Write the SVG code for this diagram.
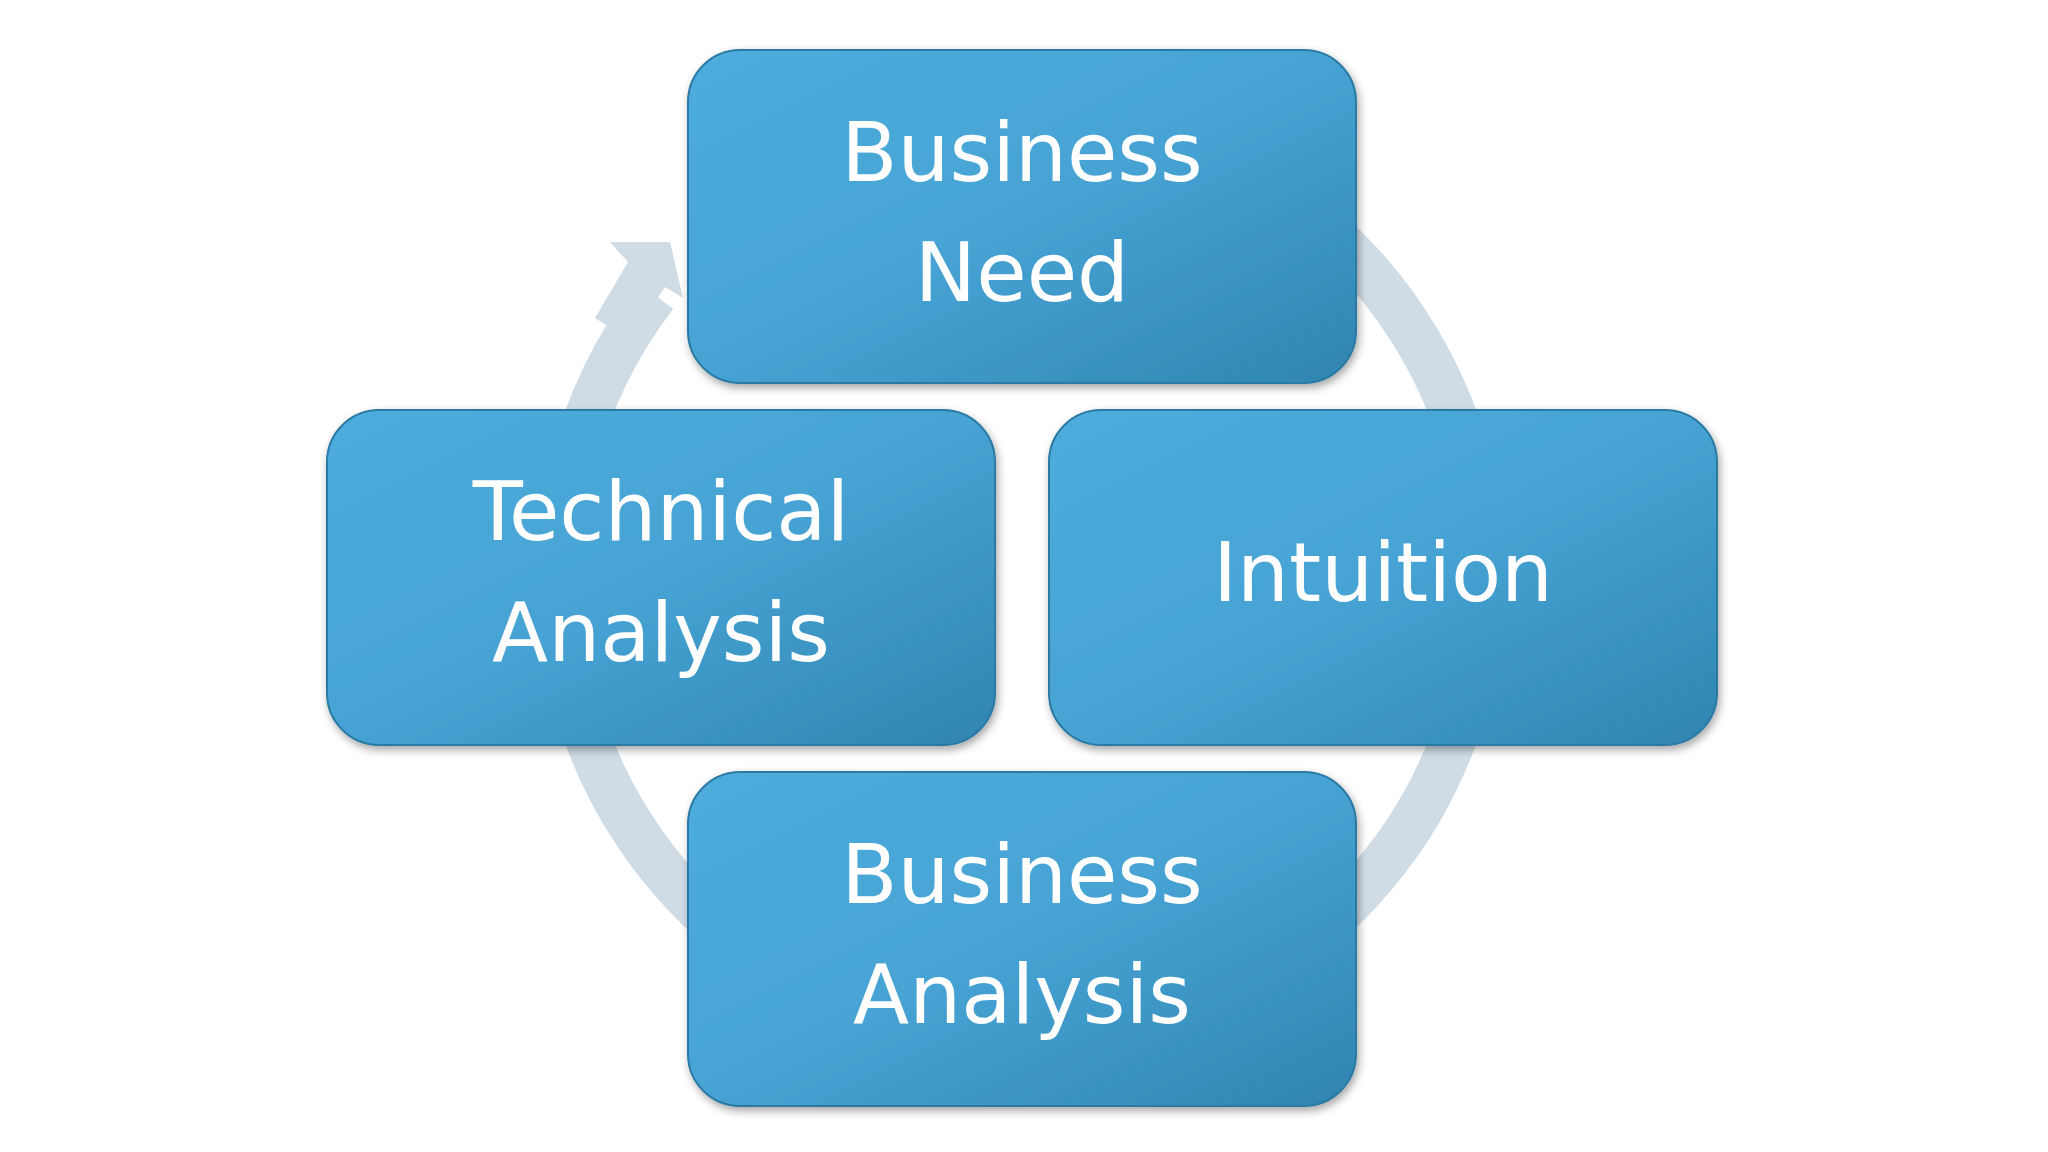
<svg xmlns="http://www.w3.org/2000/svg" width="2048" height="1152" viewBox="0 0 2048 1152">
<defs>
<linearGradient id="g" x1="0" y1="0" x2="1" y2="1">
<stop offset="0" stop-color="#4eaddd"/><stop offset="0.5" stop-color="#46a3d4"/><stop offset="1" stop-color="#2f85b0"/>
</linearGradient>
<filter id="sh" x="-10%" y="-10%" width="120%" height="130%"><feDropShadow dx="2" dy="4" stdDeviation="4" flood-color="#000" flood-opacity="0.35"/></filter>
<style>
.b{fill:url(#g);stroke:#2b7aa3;stroke-width:2;filter:url(#sh)}
.t{font-family:"DejaVu Sans",Verdana,sans-serif;font-size:82px;fill:#fff;text-anchor:middle}
</style>
</defs>
<rect width="2048" height="1152" fill="#fff"/>
<g id="connectors">
<path d="M655 295 A462 462 0 1 0 1100 122" fill="none" stroke="#cfdce6" stroke-width="46"/>
<polygon points="610,242 670,242 683,298 665,287 630,340 595,318 628,262" fill="#cfdce6"/>
</g>
<g id="n1"><rect class="b" x="688" y="50" width="668" height="333" rx="52"/><text class="t" x="1022" y="181">Business</text><text class="t" x="1022" y="301">Need</text></g>
<g id="n2"><rect class="b" x="1049" y="410" width="668" height="335" rx="52"/><text class="t" x="1383" y="601">Intuition</text></g>
<g id="n3"><rect class="b" x="688" y="772" width="668" height="334" rx="52"/><text class="t" x="1022" y="903">Business</text><text class="t" x="1022" y="1023">Analysis</text></g>
<g id="n4"><rect class="b" x="327" y="410" width="668" height="335" rx="52"/><text class="t" x="661" y="540">Technical</text><text class="t" x="661" y="661">Analysis</text></g>
</svg>
